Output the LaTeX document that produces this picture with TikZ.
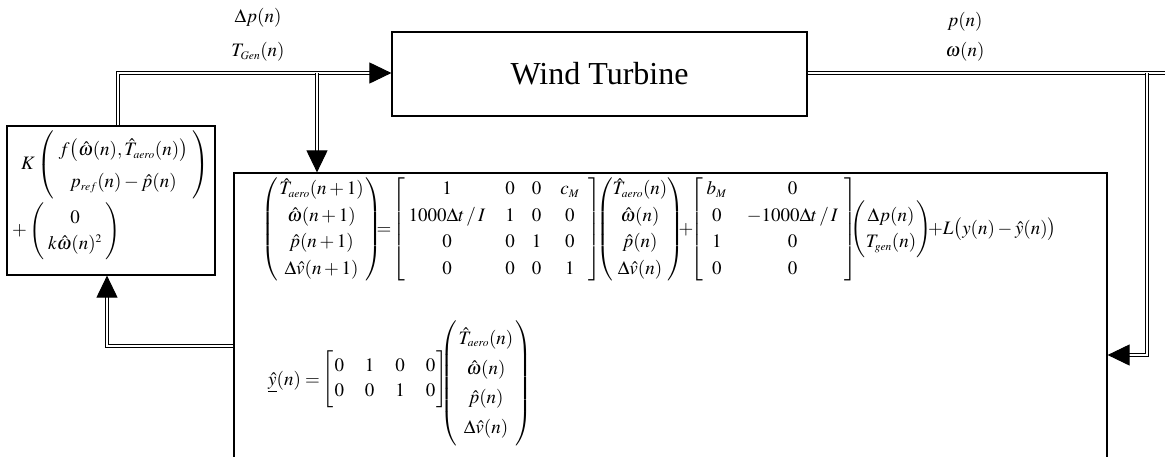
\documentclass[tikz,border=0pt]{standalone}
\usepackage{amsmath}
\usepackage{mathptmx}
\usepackage{fontspec}
\setmainfont{Liberation Serif}
\usetikzlibrary{arrows.meta}
\DeclareMathSizes{19}{19}{11.5}{9}
\newcommand{\dvec}[2]{\left(\begin{array}{@{\hspace{#1}}c@{\hspace{#1}}}#2\end{array}\right)}
\newcommand{\dmat}[2]{\left[\begin{array}{#1}#2\end{array}\right]}
\begin{document}
\begin{tikzpicture}[x=1pt,y=-1pt,
  box/.style={draw, line width=1.2pt, inner sep=0pt},
  dbl/.style={double, double distance=2pt, line width=1pt, line join=miter},
  tip/.style={-{Triangle[length=22pt,width=21pt]}},
  lbl/.style={font=\fontsize{19}{23}\selectfont, inner sep=0pt},
  eq/.style={lbl, anchor=base}]
\useasboundingbox (0,0) rectangle (1165,456);
\renewcommand{\arraystretch}{1.15}
% boxes
\node[box, minimum width=415pt, minimum height=84pt] (turb) at (599.5,74) {\fontsize{32}{38}\selectfont Wind Turbine};
\node[box, minimum width=208pt, minimum height=149pt] (ctrl) at (111,200.5) {};
\node[box, minimum width=873pt, minimum height=285pt] (obs) at (670.5,315.5) {};
% state equation, block by block
\node[eq] (s1) at (321.5,234) {$\dvec{1.5pt}{\hat T_{aero}(n+1)\\ \hat\omega(n+1)\\ \hat p(n+1)\\ \Delta\hat v(n+1)}$};
\node[eq] (s2) at (384,234) {$=$};
\node[eq] (s3) at (497,234) {$\dmat{@{\hspace{3pt}}c@{\hspace{20pt}}c@{\hspace{17pt}}c@{\hspace{19pt}}c@{\hspace{9pt}}}{1&0&0&c_M\\ 1000\Delta t\,/\,I&1&0&0\\ 0&0&1&0\\ 0&0&0&1}$};
\node[eq] (s4) at (640,234) {$\dvec{0pt}{\hat T_{aero}(n)\\ \hat\omega(n)\\ \hat p(n)\\ \Delta\hat v(n)}$};
\node[eq] (s5) at (686,234) {$+$};
\node[eq] (s6) at (773.5,234) {$\dmat{@{\hspace{4pt}}c@{\hspace{20pt}}c@{\hspace{6pt}}}{b_M&0\\ 0&-1000\Delta t\,/\,I\\ 1&0\\ 0&0}$};
\node[eq] (s7) at (891,234) {$\dvec{0pt}{\Delta p(n)\\ T_{gen}(n)}$};
\node[lbl, anchor=base west] (s8) at (928,234) {$+L\bigl(y(n)-\hat y(n)\bigr)$};
% output equation
\node[lbl, anchor=base west] (o1) at (268,385) {$\underline{\hat y}(n)=$};
\node[lbl] (o2) at (385,379) {\renewcommand{\arraystretch}{1.1}$\dmat{@{\hspace{1pt}}c@{\hspace{21pt}}c@{\hspace{21pt}}c@{\hspace{21pt}}c@{\hspace{1pt}}}{0&1&0&0\\ 0&0&1&0}$};
\node[lbl] (o3) at (486,383) {\renewcommand{\arraystretch}{1.3}$\dvec{2pt}{\hat T_{aero}(n)\\ \hat\omega(n)\\ \hat p(n)\\ \Delta\hat v(n)}$};
% controller
\node[lbl, anchor=west] (k1) at (21,165) {\renewcommand{\arraystretch}{1.4}$K\dvec{5pt}{f\bigl(\hat\omega(n),\hat T_{aero}(n)\bigr)\\ p_{ref}(n)-\hat p(n)}$};
\node[lbl, anchor=west] (k2) at (12,231) {$+\dvec{4pt}{0\\ k\hat\omega(n)^2}$};
% signal labels
\node[lbl] (in1) at (258,18) {$\Delta p(n)$};
\node[lbl] (in2) at (258,52) {$T_{Gen}(n)$};
\node[lbl] (out1) at (965,22) {$p(n)$};
\node[lbl] (out2) at (965,52) {$\omega(n)$};
% junctions
\coordinate (c1) at (118,73);
\coordinate (j1) at (317,73);
\coordinate (j2) at (1147,73);
\coordinate (j3) at (1147,355);
\coordinate (rend) at (1170,73);
\coordinate (c2) at (107,346);
% connectors
\draw[dbl,tip] (ctrl.north -| c1) -- (c1) -- (c1 -| turb.west);
\draw[dbl,tip] (j1) -- (j1 |- obs.north);
\draw[dbl] (turb.east |- j2) -- (rend);
\draw[dbl,tip] (j2) -- (j3) -- (j3 -| obs.east);
\draw[dbl,tip] (obs.west |- c2) -- (c2) -- (c2 |- ctrl.south);
\end{tikzpicture}
\end{document}
